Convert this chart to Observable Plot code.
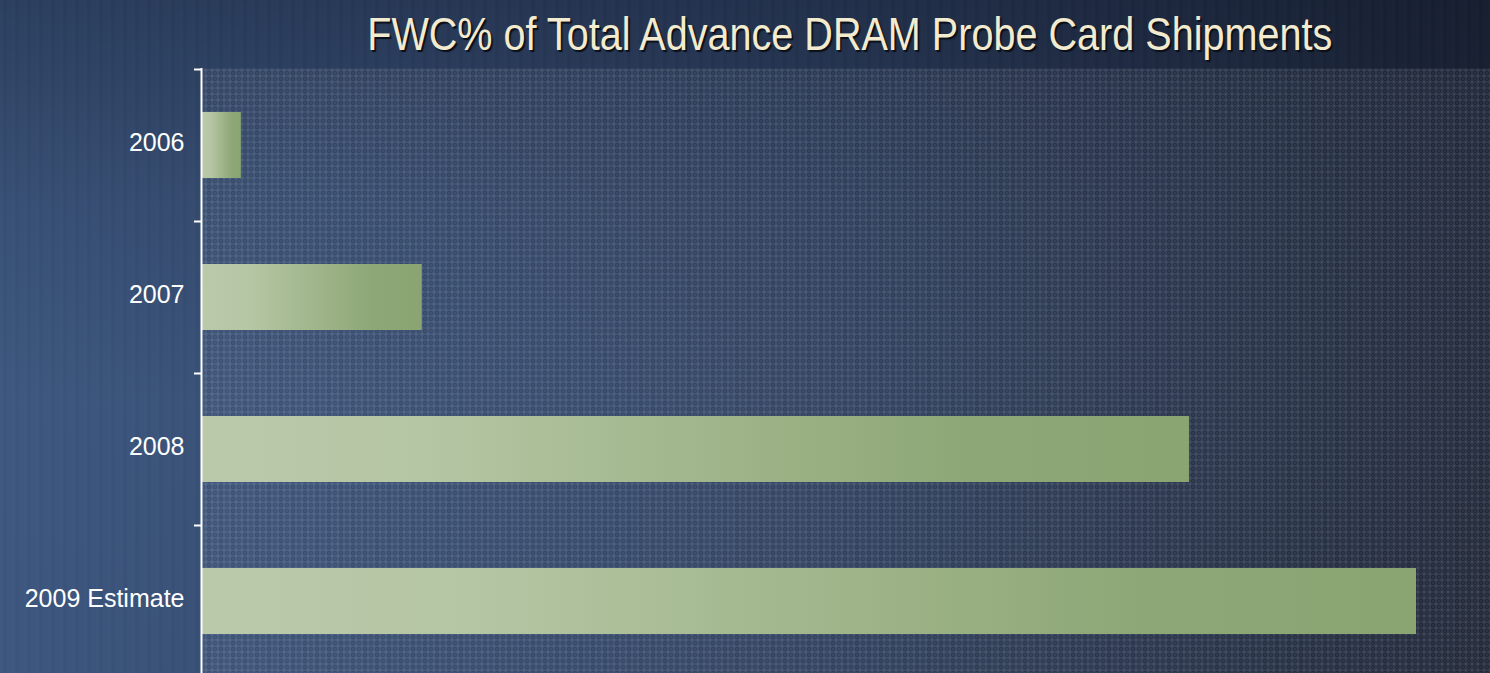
<!DOCTYPE html>
<html>
<head>
<meta charset="utf-8">
<script src="https://cdn.jsdelivr.net/npm/d3@7"></script>
<script src="https://cdn.jsdelivr.net/npm/@observablehq/plot@0.6"></script>
<style>
  html, body { margin: 0; padding: 0; }
  body {
    width: 1490px; height: 673px; overflow: hidden;
    background:
      repeating-linear-gradient(90deg, rgba(255,255,255,0.012) 0 3px, rgba(0,0,0,0.02) 3px 7px, rgba(255,255,255,0.008) 7px 12px),
      linear-gradient(to bottom, rgba(8,14,30,0.36) 0%, rgba(8,14,30,0.12) 30%, rgba(8,14,30,0) 60%),
      linear-gradient(100deg, #3f5a82 0%, #374e74 25%, #2e4060 55%, #232f46 80%, #1a2131 100%);
  }
  #title {
    height: 57px; padding-top: 11px; width: 1288px; margin-left: 202px;
    text-align: center; white-space: nowrap;
    font-family: "Liberation Sans Narrow", "Arial Narrow", "Liberation Sans", Arial, sans-serif;
    font-size: 46px; line-height: 1; color: #f3ebcf;
    text-shadow: 2px 2px 1px #0b0f18;
  }
  #title span { display: inline-block; transform-origin: 50% 50%; }
</style>
</head>
<body>
<div id="title"><span>FWC% of Total Advance DRAM Probe Card Shipments</span></div>
<div id="chart"></div>
<script>
const categories = ["2006", "2007", "2008", "2009 Estimate"];
const values = [3.2, 18.1, 81.3, 100];

const data = categories.map((c, i) => ({category: c, index: i, value: values[i]}));

// Fit the condensed title font to the reference width
(function () {
  const span = document.querySelector("#title span");
  const w = span.getBoundingClientRect().width;
  const target = 965;
  if (w > 0 && Math.abs(w - target) > 10) span.style.transform = `scaleX(${target / w})`;
  span.style.marginLeft = "8px";
})();

const plot = Plot.plot({
  width: 1490,
  height: 605,
  marginTop: 0,
  marginBottom: 0,
  marginLeft: 202,
  marginRight: 0,
  style: {background: "transparent", color: "white", fontFamily: "'Liberation Sans', Arial, sans-serif"},
  x: {domain: [0, 100], range: [202, 1416], axis: null},
  y: {domain: [0, 4], range: [1, 609], axis: null},
  marks: [
    Plot.frame({fill: "url(#checker)", stroke: null}),
    Plot.rectX(data, {
      x: "value",
      y1: d => d.index,
      y2: d => d.index + 1,
      insetTop: 43,
      insetBottom: 43,
      fill: "url(#barGrad)"
    }),
    Plot.ruleX([0], {stroke: "white", strokeWidth: 2, dx: -1}),
    Plot.axisY({
      ticks: [0, 1, 2, 3],
      tickSize: 8,
      tickFormat: () => "",
      stroke: "white",
      strokeWidth: 2,
      strokeOpacity: 1
    }),
    Plot.axisY({
      ticks: categories.map((c, i) => i + 0.5),
      tickSize: 0,
      tickPadding: 18,
      tickFormat: v => categories[Math.floor(v)],
      fill: "white",
      fontSize: 25,
      dy: -3
    })
  ]
});

const defs = d3.select(plot).insert("defs", ":first-child");
const grad = defs.append("linearGradient").attr("id", "barGrad").attr("x1", 0).attr("x2", 1).attr("y1", 0).attr("y2", 0);
[[0, "#bac9aa"], [0.22, "#b5c6a4"], [0.5, "#a1b68c"], [0.78, "#8da776"], [1, "#8aa572"]].forEach(([o, c]) =>
  grad.append("stop").attr("offset", o).attr("stop-color", c));

const pat = defs.append("pattern").attr("id", "checker").attr("patternUnits", "userSpaceOnUse")
  .attr("width", 6).attr("height", 6);
pat.append("rect").attr("width", 6).attr("height", 6).attr("fill", "rgba(255,255,255,0.03)");
[[0,0],[2,0],[1,1],[0,2],[2,2],[4,1],[1,4],[4,4]].forEach(([x, y]) =>
  pat.append("rect").attr("x", x).attr("y", y).attr("width", 1).attr("height", 1).attr("fill", "rgba(200,210,230,0.3)"));
[[3,3],[5,5],[3,5],[5,3]].forEach(([x, y]) =>
  pat.append("rect").attr("x", x).attr("y", y).attr("width", 1).attr("height", 1).attr("fill", "rgba(0,0,0,0.22)"));

document.getElementById("chart").appendChild(plot);
</script>
</body>
</html>
